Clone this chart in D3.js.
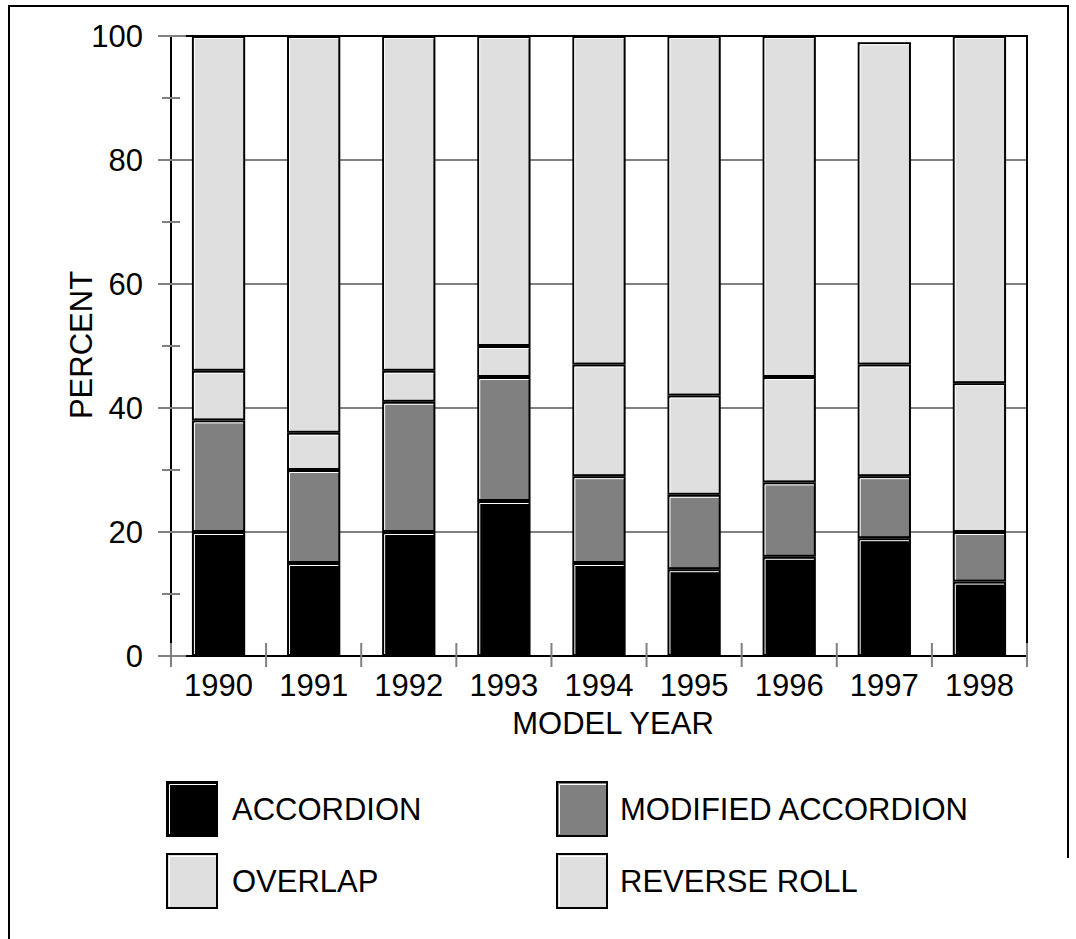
<!DOCTYPE html>
<html>
<head>
<meta charset="utf-8">
<script src="https://cdn.jsdelivr.net/npm/d3@7"></script>
<style>
  body { margin: 0; background: #fff; }
  svg text { font-family: Arial, "Liberation Sans", sans-serif; fill: #000; }
</style>
</head>
<body>
<div id="chart"></div>
<script>
// data
const years = ["1990", "1991", "1992", "1993", "1994", "1995", "1996", "1997", "1998"];
const accordion = [20, 15, 20, 25, 15, 14, 16, 19, 12];
const modifiedAccordion = [18, 15, 21, 20, 14, 12, 12, 10, 8];
const overlap = [8, 6, 5, 5, 18, 16, 17, 18, 24];
const reverseRoll = [54, 64, 54, 50, 53, 58, 55, 52, 56];
const seriesNames = ["ACCORDION", "MODIFIED ACCORDION", "OVERLAP", "REVERSE ROLL"];
const majorTicks = [0, 20, 40, 60, 80, 100];
const minorTicks = [10, 30, 50, 70, 90];

const width = 1076;
const height = 939;
const plot = { left: 171, right: 1027, top: 36, bottom: 656 };

const fills = {
    "ACCORDION": "#000000",
    "MODIFIED ACCORDION": "#808080",
    "OVERLAP": "#dfdfdf",
    "REVERSE ROLL": "#dfdfdf"
};
const grid = "#808080";
const fontSize = 31;

const svg = d3.select("#chart")
    .append("svg")
    .attr("width", width)
    .attr("height", height);

// outer frame
svg.append("path")
    .attr("d", "M9,939 V6 H1068 V858")
    .attr("fill", "none")
    .attr("stroke", "#000")
    .attr("stroke-width", 2);

// build table for the stack
const table = years.map((y, i) => ({
    year: y,
    "ACCORDION": accordion[i],
    "MODIFIED ACCORDION": modifiedAccordion[i],
    "OVERLAP": overlap[i],
    "REVERSE ROLL": reverseRoll[i]
}));

const x = d3.scaleBand()
    .domain(years)
    .range([plot.left, plot.right])
    .paddingInner(0.44)
    .paddingOuter(0.22);

const y = d3.scaleLinear()
    .domain([0, 100])
    .range([plot.bottom, plot.top]);

// gridlines behind the bars
svg.append("g")
    .selectAll("line")
    .data(majorTicks.filter(d => d > 0 && d < 100))
    .join("line")
    .attr("x1", plot.left)
    .attr("x2", plot.right)
    .attr("y1", d => y(d))
    .attr("y2", d => y(d))
    .attr("stroke", grid)
    .attr("stroke-width", 2);

const stack = d3.stack().keys(seriesNames);
const series = stack(table);

// stacked bars
const segs = svg.append("g")
    .selectAll("g")
    .data(series)
    .join("g")
    .attr("fill", d => fills[d.key])
    .selectAll("g")
    .data(d => d)
    .join("g");

segs.append("rect")
    .attr("x", d => x(d.data.year) + 1)
    .attr("y", d => y(d[1]) + 1)
    .attr("width", x.bandwidth() - 2)
    .attr("height", d => y(d[0]) - y(d[1]) - 2)
    .attr("stroke", "#000")
    .attr("stroke-width", 2);

// white bevel on the left and top edges
segs.append("path")
    .attr("d", d => {
        const x0 = x(d.data.year) + 2.5;
        const x1 = x(d.data.year) + x.bandwidth() - 2;
        const y0 = y(d[1]) + 2.5;
        const y1 = y(d[0]) - 2;
        return `M${x0},${y1} V${y0} H${x1}`;
    })
    .attr("fill", "none")
    .attr("stroke", "#fff")
    .attr("stroke-width", 1);

// plot frame
svg.append("rect")
    .attr("x", plot.left)
    .attr("y", plot.top)
    .attr("width", plot.right - plot.left)
    .attr("height", plot.bottom - plot.top)
    .attr("fill", "none")
    .attr("stroke", "#000")
    .attr("stroke-width", 2);

// y ticks (gray, on top)
svg.append("g")
    .selectAll("line")
    .data(majorTicks)
    .join("line")
    .attr("x1", 158)
    .attr("x2", 186)
    .attr("y1", d => y(d))
    .attr("y2", d => y(d))
    .attr("stroke", grid)
    .attr("stroke-width", 2);

svg.append("g")
    .selectAll("line")
    .data(minorTicks)
    .join("line")
    .attr("x1", 162)
    .attr("x2", 180)
    .attr("y1", d => y(d))
    .attr("y2", d => y(d))
    .attr("stroke", grid)
    .attr("stroke-width", 2);

svg.append("g")
    .selectAll("text")
    .data(majorTicks)
    .join("text")
    .attr("x", 143)
    .attr("y", d => y(d))
    .attr("dy", "0.36em")
    .attr("text-anchor", "end")
    .style("font-size", fontSize + "px")
    .text(d => d);

// x ticks at category boundaries
const bounds = years.map(d => x(d) - x.step() * x.paddingInner() / 2);
bounds[0] = plot.left;
bounds.push(plot.right);

svg.append("g")
    .selectAll("line")
    .data(bounds)
    .join("line")
    .attr("x1", d => d)
    .attr("x2", d => d)
    .attr("y1", 643)
    .attr("y2", 667)
    .attr("stroke", grid)
    .attr("stroke-width", 2);

svg.append("g")
    .selectAll("text")
    .data(years)
    .join("text")
    .attr("x", d => x(d) + x.bandwidth() / 2)
    .attr("y", 696)
    .attr("text-anchor", "middle")
    .style("font-size", fontSize + "px")
    .text(d => d);

// axis titles
svg.append("text")
    .attr("x", 613)
    .attr("y", 734)
    .attr("text-anchor", "middle")
    .style("font-size", fontSize + "px")
    .text("MODEL YEAR");

svg.append("text")
    .attr("transform", "translate(92,345) rotate(-90)")
    .attr("text-anchor", "middle")
    .style("font-size", fontSize + "px")
    .text("PERCENT");

// legend
const legendPos = [
    { x: 167, y: 782, tx: 232 },
    { x: 557, y: 782, tx: 620 },
    { x: 167, y: 854, tx: 232 },
    { x: 557, y: 854, tx: 620 }
];

const legend = svg.append("g")
    .selectAll("g")
    .data(seriesNames)
    .join("g")
    .attr("transform", (d, i) => `translate(${legendPos[i].x},${legendPos[i].y})`);

legend.append("rect")
    .attr("width", 50)
    .attr("height", 54)
    .attr("fill", d => fills[d])
    .attr("stroke", "#000")
    .attr("stroke-width", 2);

legend.append("path")
    .attr("d", "M2.5,52 V2.5 H49")
    .attr("fill", "none")
    .attr("stroke", "#fff")
    .attr("stroke-width", 1);

legend.append("text")
    .attr("x", (d, i) => legendPos[i].tx - legendPos[i].x)
    .attr("y", 38)
    .style("font-size", fontSize + "px")
    .text(d => d);
</script>
</body>
</html>
